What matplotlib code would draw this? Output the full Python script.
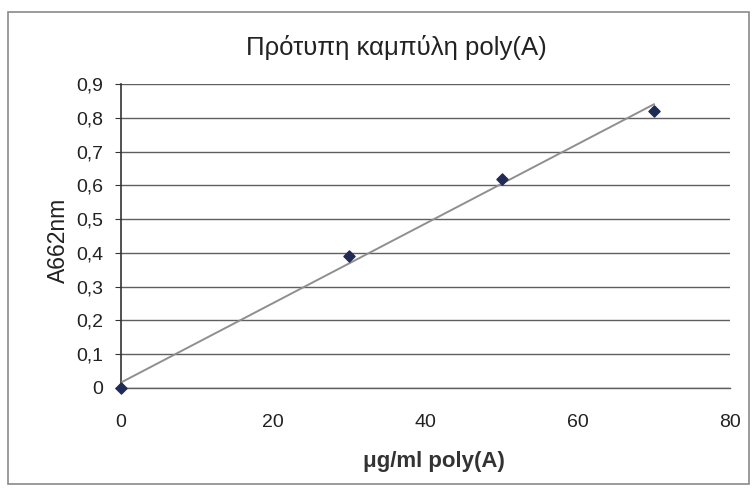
import numpy as np
import matplotlib
matplotlib.use("Agg")
import matplotlib.pyplot as plt
from matplotlib.patches import Rectangle
from matplotlib.ticker import FuncFormatter

plt.rcParams['font.family'] = ['Liberation Sans', 'DejaVu Sans']

# Data
conc = [0, 30, 50, 70]            # μg/ml poly(A)
absorb = [0.0, 0.39, 0.62, 0.82]  # A662nm
x_ticks = [0, 20, 40, 60, 80]
y_ticks = [0, 0.1, 0.2, 0.3, 0.4, 0.5, 0.6, 0.7, 0.8, 0.9]
title = "Πρότυπη καμπύλη poly(A)"
xlabel = "μg/ml poly(A)"
ylabel = "A662nm"

W, H = 755, 491
fig = plt.figure(figsize=(W / 100, H / 100), dpi=100)
fig.patch.set_facecolor('white')

# outer chart border
fig.patches.append(Rectangle((8 / W, 7 / H), (W - 14) / W, (H - 19) / H,
                             transform=fig.transFigure, fill=False,
                             edgecolor='#8a8a8a', linewidth=1.2))

x0, x1 = 121, 730
y0, y1 = 388, 84
ax = fig.add_axes([x0 / W, 1 - y0 / H, (x1 - x0) / W, (y0 - y1) / H])
ax.set_xlim(0, 80)
ax.set_ylim(0, 0.9)

ax.set_yticks(y_ticks)
ax.set_xticks(x_ticks)
comma = FuncFormatter(lambda v, p: (f"{v:g}").replace('.', ','))
ax.yaxis.set_major_formatter(comma)
ax.xaxis.set_major_formatter(comma)

ax.grid(axis='y', color='#5f5f5f', linewidth=1.0)
ax.set_axisbelow(True)
for s in ['top', 'right']:
    ax.spines[s].set_visible(False)
ax.spines['left'].set_color('#333333')
ax.spines['left'].set_linewidth(1.2)
ax.spines['bottom'].set_color('#5f5f5f')
ax.spines['bottom'].set_linewidth(1.0)

ax.tick_params(axis='y', length=4, color='#333333', labelsize=14, pad=9, labelcolor='#222222')
ax.tick_params(axis='x', length=0, labelsize=14, pad=18.5, labelcolor='#222222')

# linear trendline fitted to the data
k, b = np.polyfit(conc, absorb, 1)
xs = np.array([min(conc), max(conc)])
ax.plot(xs, k * xs + b, color='#8f8f8f', linewidth=1.4, zorder=3)

ax.scatter(conc, absorb, marker='D', s=32, color='#1f2a55', zorder=4, clip_on=False)

fig.text(396 / W, 1 - 47 / H, title, ha='center', va='center', fontsize=18.5, color='#222222')
fig.text(434 / W, 1 - 462 / H, xlabel, ha='center', va='center', fontsize=16,
         fontweight='bold', color='#333333')
fig.text(58 / W, 1 - 240 / H, ylabel, ha='center', va='center', rotation=90,
         fontsize=16.5, color='#222222')

fig.savefig('out.png', dpi=100, facecolor='white')
